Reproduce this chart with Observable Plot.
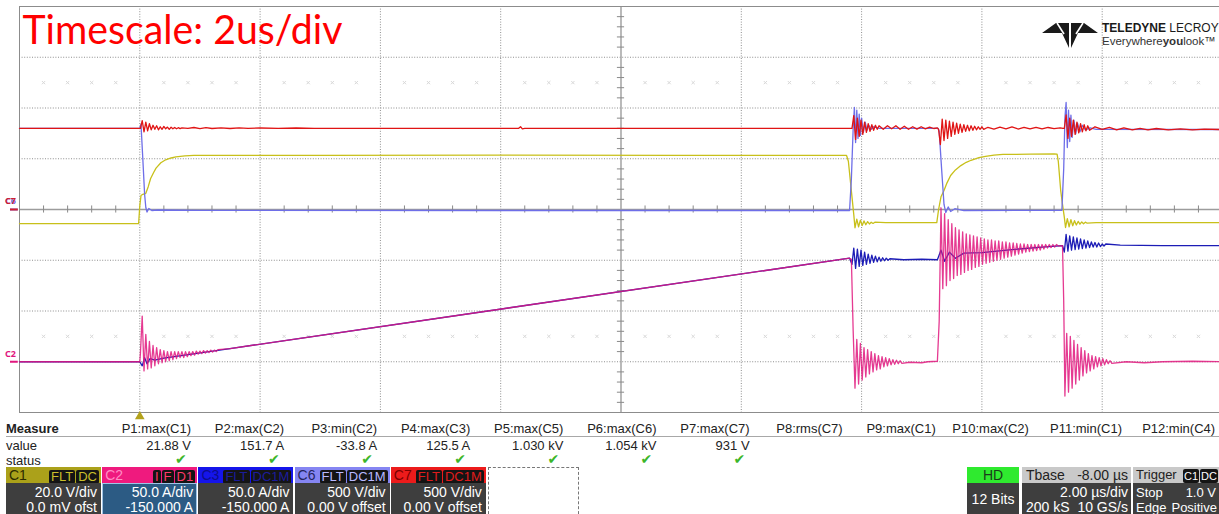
<!DOCTYPE html>
<html>
<head>
<meta charset="utf-8">
<script src="https://cdn.jsdelivr.net/npm/d3@7"></script>
<script src="https://cdn.jsdelivr.net/npm/@observablehq/plot@0.6"></script>
<style>
  html, body { margin: 0; padding: 0; background: #fff; overflow: hidden; }
  #screen { position: relative; width: 1219px; height: 514px; overflow: hidden;
            font-family: "Liberation Sans", Arial, sans-serif; }
  #scope { position: absolute; left: 0; top: 0; width: 1223px; }
  #logo { position: absolute; left: 1038px; top: 16px; }
  .cell { position: absolute; font-size: 13px; line-height: 15px; white-space: nowrap; color: #222; }
  .r { text-align: right; }
  .rule { position: absolute; height: 1px; background: #a8a8a8; }
  .ok { position: absolute; color: #3cb62a; font-size: 14px; line-height: 15px; font-family: "DejaVu Sans", sans-serif; }
  .box { position: absolute; top: 467px; height: 52px; }
  .bh { position: absolute; left: 0; right: 0; top: 0; height: 16px; font-size: 14px; line-height: 16px; }
  .bh .lab { position: absolute; left: 3px; top: 0; }
  .bh .tags { position: absolute; right: 2px; top: 1px; }
  .tag { display: inline-block; background: #141414; border-radius: 2px; padding: 0 2px; margin-left: 1px;
         line-height: 14px; font-size: 13px; }
  .bb { position: absolute; left: 0; right: 0; top: 16px; bottom: 0; background: #3e3e3e; color: #fff;
        font-family: "Liberation Sans Narrow", "Arial Narrow", "Liberation Sans", sans-serif; font-size: 14px; }
  .bb div { position: absolute; white-space: nowrap; line-height: 15px; }
</style>
</head>
<body>
<div id="screen">
  <div id="scope"></div>
  <svg id="logo" width="181" height="36" viewBox="0 0 181 36">
    <g fill="#1a1a1a">
      <polygon points="4,17 18,7 31,7 31,32 24,17"/>
      <polygon points="60,17 46,7 33,7 33,32 40,17"/>
    </g>
    <g stroke="#fff" stroke-width="1.6">
      <line x1="19" y1="7" x2="26" y2="18"/>
      <line x1="45" y1="7" x2="38" y2="18"/>
    </g>
    <text x="64" y="16" font-family="Liberation Sans, Arial, sans-serif" font-size="12" fill="#1a1a1a"><tspan font-weight="bold">TELEDYNE</tspan> LECROY</text>
    <text x="64" y="29" font-family="Liberation Sans, Arial, sans-serif" font-size="11.5" fill="#333">Everywhere<tspan font-weight="bold">you</tspan>look™</text>
  </svg>
  <div id="panel"></div>
</div>
<script>
// ---- acquisition setup -------------------------------------------------
const timeDomain = [-2, 18];              // µs, 2 µs/div, trigger at 0
const gridTimes = [0, 2, 4, 6, 10, 12, 14, 16];
const centerTime = 8;
const gridDivs = [-3, -2, -1, 1, 2, 3];
const titleText = "Timescale: 2us/div";

const channelNames  = ["C1", "C2", "C3", "C6", "C7"];
const channelScale  = [20, 50, 50, 500, 500];       // units per division
const channelOffset = [0, -150, -150, 0, 0];        // offset in units
const channelColor  = ["#c8c01a", "#e0177e", "#1c1cb6", "#6e6ee8", "#e01414"];

// ---- waveforms: [time µs, value] points plus ringing bursts sampled every dt µs ----
// C1: gate voltage (V)
const c1Points = [[-2,-5.6],[-0.02,-5.6],[0,1.5],[0.02,5.5],[0.05,6],[0.1,6.4],[0.14,9],[0.18,12.2],[0.23,14.6],
  [0.27,16.3],[0.35,18.4],[0.43,19.6],[0.52,20.3],[0.6,20.7],[0.75,21.1],[0.9,21.3],[3,21.3],[6,21.4],[9,21.3],
  [11.75,21.3],[11.78,19],[11.81,12],[11.84,5],[11.87,-2],
  [12.4,-5.2],[13.25,-5.2],[13.28,0],[13.32,5],[13.37,7.5],[13.42,10.5],[13.48,13.4],[13.56,15.6],[13.65,17.3],
  [13.74,18.6],[13.82,19.4],[13.95,20.4],[14.06,20.9],[14.2,21.4],[14.35,21.7],[14.8,21.8],[15.2,21.88],
  [15.25,21.8],[15.27,19],[15.31,7.5],[15.34,2],[15.37,-3],[15.9,-5.2],[18,-5.2]];
const c1Bursts = [
  {t0: 11.89, dt: 0.03, v: [-7.2,-3.8,-6.8,-4.2,-6.3,-4.5,-6.0,-4.8,-5.7,-5.0,-5.5,-5.0]},
  {t0: 15.39, dt: 0.03, v: [-7.1,-3.6,-6.8,-4.0,-6.4,-4.4,-6.1,-4.7,-5.8,-4.9,-5.6,-5.0,-5.4]}
];

// C2: switch current (A)
const c2Points = [[-2,0],[0,0],[1.5,13],[11.8,102],[11.83,101],
  [12.8,-0.5],[13.0,-1],[13.1,0],[13.26,0.5],[15.34,114.5],[15.36,60],
  [16.4,0],[16.7,-1],[17,0],[17.5,0.5],[18,0]];
const c2Bursts = [
  {t0: 0.01, dt: 0.03, v: [8,45,-9,27,-7,20,-6,16,-4,14,-2,12,-1,11,0,10,1,10,2,10,3,10,4,10,4,10,5,10,6,10,
    6.5,10.5,7.5,10.5,8,11,8.5,11,9,11.5,9.5,11.5,10,12]},
  {t0: 11.86, dt: 0.03, v: [30,-26,22,-22,18,-18,14,-15,12,-12,10,-10,8,-8,6,-7,5,-5,4,-4,3,-3,2,-2.5,1.5,-2,1,-1.5]},
  {t0: 13.29, dt: 0.03, v: [40,151.7,72,146,75,140,80,136,82,132,85,130,86,128,88,126,90,125,91,124,93,123,94,122,
    96,121,97,120,98,120,99,119,100,119,101,118,102,118,103,117,104,117,105,116.5,106,116,107,116,108,115.5,
    108.5,115.5,109,115.5,109.5,115.5,110,115.5,111,115.5,112,115.5,112.5,115.5,113,115.5,114]},
  {t0: 15.38, dt: 0.03, v: [-33.8,28,-30,25,-26,21,-22,17,-18,14,-14,11,-11,8,-9,6,-7,5,-5,4,-4,3,-3,2,-2,1,-1.5]}
];

// C3: inductor current (A)
const c3Points = [[-2,0],[0,0],[0.04,-4],[0.08,4],[0.12,-2],[0.17,3],[0.25,1.5],[0.4,3.5],[1.5,13],[11.8,102],
  [12.7,100.5],[13.0,101],[13.26,100.5],[13.32,110],[13.38,99],[13.46,108],[13.56,102],[13.7,107],[14.0,107.5],
  [14.5,110.5],[15.0,113],[15.34,114.5],[16.3,115],[17,114.5],[18,114.5]];
const c3Bursts = [
  {t0: 11.84, dt: 0.03, v: [96,112,92,111,94,110,95,108,96,106,97,105,98,104,98.5,103,99,102.5,99.5,102,100,101.5]},
  {t0: 15.37, dt: 0.03, v: [108,125.5,109,124,110,123,110.5,122,111,121,111.5,120,112,119,112.5,118,113,117.5,
    113,117,113.5,116,114,116]}
];

// C6: drain-source voltage (V)
const c6Points = [[-2,800],[0,800],[0.02,840],[0.05,500],[0.08,150],[0.1,20],[0.12,-25],[0.15,10],[0.2,-10],
  [0.3,-5],[1,-8],[6,-10],[11.8,-10],[11.83,300],[11.86,800],[11.88,1005],[11.9,660],[11.92,980],[11.94,700],
  [11.96,940],[11.98,730],[12.0,900],[12.03,760],[12.06,860],[12.09,780],[12.12,830],[12.16,790],[12.2,815],
  [12.3,800],[13.27,800],[13.29,770],[13.33,400],[13.37,50],[13.4,-30],[13.44,25],[13.48,-20],[13.55,8],
  [13.7,-10],[15.33,-8],[15.36,400],[15.38,900],[15.4,1054],[15.42,610],[15.44,980],[15.46,670],[15.48,930],
  [15.5,710],[15.53,880],[15.56,745],[15.59,850],[15.63,765],[15.67,830],[15.72,785],[15.8,805],[15.9,790],[18,788]];
const c6Bursts = [];

// C7: bus voltage (V)
const c7Points = [[-2,800],[0,800],
  [0.8,800],[0.9,808],[1.0,796],[1.1,806],[1.2,798],[1.35,805],[1.5,798],[1.65,804],[1.8,799],[2.0,803],
  [2.3,800],[2.6,803],[2.9,800],[6.3,800],[6.33,815],[6.36,795],[6.4,800],[11.83,800],
  [12.36,790],[12.43,825],[12.5,795],[12.57,825],[12.64,790],[12.71,820],[12.78,790],[12.85,815],[12.92,792],
  [12.99,815],[13.06,795],[13.13,812],[13.2,798],[13.26,805],
  [14.1,810],[14.2,792],[14.3,812],[14.4,795],[14.5,815],[14.6,793],[14.7,810],[14.8,795],[14.9,810],[15.0,795],
  [15.1,808],[15.2,797],[15.3,805],[15.35,800],
  [15.88,815],[16.0,790],[16.12,810],[16.24,785],[16.36,805],[16.5,785],[16.63,800],[16.76,785],[16.9,798],
  [17.1,785],[17.3,795],[17.5,785],[17.7,792],[18,787]];
const c7Bursts = [
  {t0: 0.01, dt: 0.03, v: [800,875,765,860,775,845,785,830,790,825,785,815,790,818,795,812,790,810,795,808,795,806,797,805]},
  {t0: 11.84, dt: 0.03, v: [800,925,690,900,720,880,740,860,760,845,770,835,780,830,790,825]},
  {t0: 13.28, dt: 0.03, v: [790,640,890,680,880,700,870,720,860,740,850,750,840,760,835,770,830,775,825,780,
    820,785,815,790,815,790]},
  {t0: 15.37, dt: 0.03, v: [800,931,700,900,720,880,740,860,755,845,765,835,775,825,780]}
];

// ---- measurement panel ----
const measureNames = ["P1:max(C1)","P2:max(C2)","P3:min(C2)","P4:max(C3)","P5:max(C5)","P6:max(C6)",
  "P7:max(C7)","P8:rms(C7)","P9:max(C1)","P10:max(C2)","P11:min(C1)","P12:min(C4)"];
const measureValues = ["21.88 V","151.7 A","-33.8 A","125.5 A","1.030 kV","1.054 kV","931 V","","","","",""];
const measureOk = [true,true,true,true,true,true,true,false,false,false,false,false];

const boxTags = [["FLT","DC"],["I","F","D1"],["FLT","DC1M"],["FLT","DC1M"],["FLT","DC1M"]];
const boxScaleText = ["20.0 V/div","50.0 A/div","50.0 A/div","500 V/div","500 V/div"];
const boxOffsetText = ["0.0 mV ofst","-150.000 A","-150.000 A","0.00 V offset","0.00 V offset"];
const boxHeadColor = ["#aba11a","#ef1a7e","#1515ea","#8585f2","#ec1b1b"];
const boxLabelColor = ["#2e2c00","#ff8cc4","#0c0c8c","#23235e","#7a0000"];
const boxTagColor = ["#c9bf2a","#ff3a6a","#1c1c9c","#b8b8ff","#e01c1c"];

const timebase = {delay: "-8.00 µs", perDiv: "2.00 µs/div", samples: "200 kS", rate: "10 GS/s"};
const trigger = {mode: "Stop", level: "1.0 V", type: "Edge", slope: "Positive", tags: ["C1", "DC"]};

// ---- build traces in divisions ----
function trace(points, bursts, k) {
  const rows = points.map(([t, v]) => ({t, v}));
  for (const b of bursts) b.v.forEach((v, i) => rows.push({t: b.t0 + i * b.dt, v}));
  rows.sort((a, b) => a.t - b.t);
  return rows.map(r => ({t: r.t, d: (r.v + channelOffset[k]) / channelScale[k]}));
}
const traces = [
  trace(c1Points, c1Bursts, 0),
  trace(c2Points, c2Bursts, 1),
  trace(c3Points, c3Bursts, 2),
  trace(c6Points, c6Bursts, 3),
  trace(c7Points, c7Bursts, 4)
];

// sub-division marks (5 per division)
const minorTimes = d3.range(-2, 18.001, 0.4).filter(t => Math.abs(((t + 2) / 2) % 1) > 1e-6 && Math.abs(((t + 2) / 2) % 1 - 1) > 1e-6);
const minorDivs = d3.range(-4, 4.001, 0.2).filter(d => Math.abs(d - Math.round(d)) > 1e-6);
const faintRows = [2.5, -2.5];
const faintMarks = faintRows.flatMap(d => minorTimes.map(t => ({t, d})));

// ground markers at the left edge
const grounds = [
  {name: "C6", d: channelOffset[3] / channelScale[3], color: channelColor[3]},
  {name: "C7", d: channelOffset[4] / channelScale[4], color: "#d02030"},
  {name: "C2", d: channelOffset[1] / channelScale[1], color: channelColor[1]}
];

const gridStyle = {stroke: "#8e8e8e", strokeDasharray: "1,1.6", strokeWidth: 1};
const traceOrder = [0, 2, 1, 3, 4];

const plot = Plot.plot({
  width: 1223, height: 420,
  marginLeft: 19, marginRight: 1, marginTop: 6, marginBottom: 8,
  x: {domain: timeDomain, axis: null},
  y: {domain: [-4, 4], axis: null},
  style: {background: "transparent", overflow: "visible"},
  marks: [
    Plot.dot(faintMarks, {x: "t", y: "d", symbol: "times", r: 1.6, stroke: "#d8d8d8", strokeWidth: 1}),
    Plot.ruleX(gridTimes, gridStyle),
    Plot.ruleY(gridDivs, gridStyle),
    Plot.ruleY([0], {stroke: "#9c9c9c", strokeWidth: 1.6}),
    Plot.ruleX([centerTime], {stroke: "#9c9c9c", strokeWidth: 1.4}),
    Plot.ruleX(minorTimes, {y1: -0.07, y2: 0.07, stroke: "#8a8a8a"}),
    Plot.ruleY(minorDivs, {x1: centerTime - 0.06, x2: centerTime + 0.06, stroke: "#8a8a8a"}),
    Plot.frame({stroke: "#8c8c8c"}),
    ...traceOrder.map(k => Plot.line(traces[k], {
      x: "t", y: "d", stroke: channelColor[k], strokeWidth: 1.3,
      strokeOpacity: k === 1 ? 0.85 : 1
    })),
    Plot.ruleY(grounds, {y: "d", x1: timeDomain[0] - 0.15, x2: timeDomain[0] - 0.02, stroke: "color", strokeWidth: 2}),
    Plot.text(grounds, {x: timeDomain[0], y: "d", text: "name", fill: "color", dx: -9, dy: -8,
      fontSize: 9, fontWeight: "bold", textAnchor: "middle"}),
    Plot.dot([0], {x: d => d, y: -4, symbol: "triangle", r: 3.6, fill: "#b3a21c", dy: 4}),
    Plot.text([titleText], {frameAnchor: "top-left", dx: 3, dy: 37, lineAnchor: "bottom",
      fill: "#ff0000", fontSize: 40, fontFamily: "Lato, 'Open Sans', sans-serif"})
  ]
});
document.getElementById("scope").appendChild(plot);
d3.select(plot).selectAll("text").filter(function () { return this.textContent === titleText; })
  .attr("textLength", 320).attr("lengthAdjust", "spacingAndGlyphs");

// ---- measurement table and channel descriptors ----
const panel = document.getElementById("panel");
let html = "";
const colRight = measureNames.map((_, i) => 191 + i * 93.1);
html += `<div class="cell" style="left:6px;top:421px;font-weight:bold">Measure</div>`;
html += `<div class="cell" style="left:6px;top:438px">value</div>`;
html += `<div class="cell" style="left:6px;top:453px">status</div>`;
html += `<div class="rule" style="left:6px;width:1213px;top:436px"></div>`;
measureNames.forEach((name, i) => {
  const left = colRight[i] - 90;
  html += `<div class="cell r" style="left:${left}px;width:90px;top:421px">${name}</div>`;
  if (measureValues[i]) html += `<div class="cell r" style="left:${left}px;width:90px;top:438px">${measureValues[i]}</div>`;
  if (measureOk[i]) html += `<div class="ok" style="left:${colRight[i] - 16}px;top:452px">✔</div>`;
});
channelNames.forEach((name, i) => {
  const left = 6 + i * 96.2;
  const selected = name === "C2";
  const tags = boxTags[i].map(t => `<span class="tag" style="color:${boxTagColor[i]}">${t}</span>`).join("");
  html += `<div class="box" style="left:${left}px;width:95px">
    <div class="bh" style="background:${boxHeadColor[i]}"><span class="lab" style="color:${boxLabelColor[i]}">${name}</span><span class="tags">${tags}</span></div>
    <div class="bb" style="${selected ? "background:#2c5b84;box-shadow:inset 0 0 0 1px #9fc4e6;" : ""}">
      <div style="right:4px;top:2px">${boxScaleText[i]}</div>
      <div style="right:4px;top:17px">${boxOffsetText[i]}</div>
    </div></div>`;
});
html += `<div class="box" style="left:488px;width:91px;border:1px dashed #777;border-bottom:none;box-sizing:border-box"></div>`;
// acquisition boxes
html += `<div class="box" style="left:967px;width:52px">
  <div class="bh" style="background:#2fea2f;text-align:center;color:#1b3b1b">HD</div>
  <div class="bb"><div style="left:0;right:0;text-align:center;top:9px">12 Bits</div></div></div>`;
html += `<div class="box" style="left:1022px;width:109px">
  <div class="bh" style="background:#c9c9c9;color:#222"><span style="position:absolute;left:4px">Tbase</span><span style="position:absolute;right:3px">${timebase.delay}</span></div>
  <div class="bb"><div style="right:3px;top:2px">${timebase.perDiv}</div>
  <div style="left:4px;top:17px">${timebase.samples}</div><div style="right:3px;top:17px">${timebase.rate}</div></div></div>`;
html += `<div class="box" style="left:1133px;width:86px">
  <div class="bh" style="background:#c9c9c9;color:#222;font-size:13px"><span style="position:absolute;left:3px">Trigger</span><span style="position:absolute;right:1px;top:1px">${trigger.tags.map(t => `<span class="tag" style="color:#fff;font-size:11px;padding:0 1px">${t}</span>`).join("")}</span></div>
  <div class="bb" style="font-size:13px"><div style="left:3px;top:2px">${trigger.mode}</div><div style="right:3px;top:2px">${trigger.level}</div>
  <div style="left:3px;top:17px">${trigger.type}</div><div style="right:2px;top:17px">${trigger.slope}</div></div></div>`;
panel.innerHTML = html;
</script>
</body>
</html>
